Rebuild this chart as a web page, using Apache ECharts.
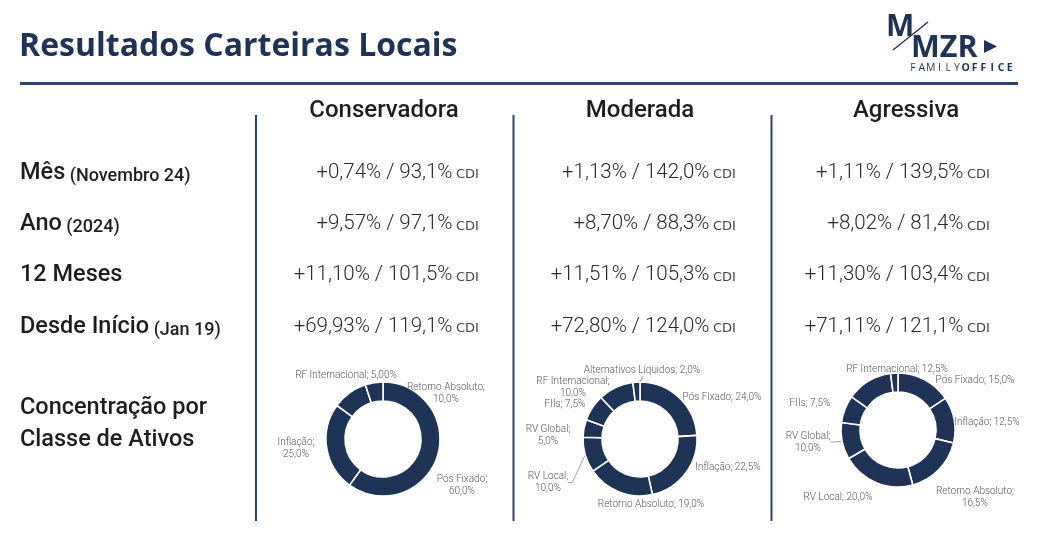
<!DOCTYPE html>
<html>
<head>
<meta charset="utf-8">
<script src="https://cdn.jsdelivr.net/npm/echarts@6/dist/echarts.min.js"></script>
<style>
html,body{margin:0;padding:0;background:#fff;}
#chart{width:1043px;height:533px;}
</style>
</head>
<body>
<div id="chart"></div>
<script>
// ---------- DATA ----------
const title = 'Resultados Carteiras Locais';
const portfolios = ['Conservadora', 'Moderada', 'Agressiva'];
const rowLabels = ['Mês', 'Ano', '12 Meses', 'Desde Início'];
const rowSubs = ['(Novembro 24)', '(2024)', '', '(Jan 19)'];
const concentrationLabel = ['Concentração por', 'Classe de Ativos'];

const retConservadora = [0.74, 9.57, 11.10, 69.93];
const cdiConservadora = [93.1, 97.1, 101.5, 119.1];
const retModerada = [1.13, 8.70, 11.51, 72.80];
const cdiModerada = [142.0, 88.3, 105.3, 124.0];
const retAgressiva = [1.11, 8.02, 11.30, 71.11];
const cdiAgressiva = [139.5, 81.4, 103.4, 121.1];

const consNames = ['Pós Fixado', 'Inflação', 'Retorno Absoluto', 'RF Internacional'];
const consValues = [60, 25, 10, 5];
const consDecimals = [1, 1, 1, 2];

const modNames = ['Pós Fixado', 'Inflação', 'Retorno Absoluto', 'RV Local', 'RV Global', 'FIIs', 'RF Internacional', 'Alternativos Líquidos'];
const modValues = [24, 22.5, 19, 10, 5, 7.5, 10, 2];

const agrNames = ['Pós Fixado', 'Inflação', 'Retorno Absoluto', 'RV Local', 'RV Global', 'FIIs', 'RF Internacional', 'Alternativos Líquidos'];
const agrValues = [15, 12.5, 16.5, 20, 10, 7.5, 12.5, 2];
const agrHidden = [false, false, false, false, false, false, false, true];

// ---------- LAYOUT / STYLE ----------
const NAVY = '#1f3357';
const LINE = '#2c4468';
const TXT = '#1e1e1e';
const VAL = '#2a2a2a';

const colCenters = [384, 640, 906];
const valRight = [456, 713, 967];
const sepX = [256, 513.5, 771.5];
const labelBase = [180, 231.5, 282.3, 334];

const pieCenters = [[383, 439], [640, 439], [898, 430]];
// label anchor [x, y, lineBreak]
const labelPos = [
  [[462, 485, 1], [296, 448, 1], [446, 393, 1], [346, 375, 0]],
  [[722, 397, 0], [728, 467, 0], [651, 504, 0], [548, 482.5, 1], [548, 435.5, 1], [565, 404, 0], [573, 387, 1], [642, 370, 0]],
  [[975, 380, 0], [987, 422, 0], [975, 497, 1], [838, 497, 0], [808, 442, 1], [810, 403, 0], [897, 369, 0], [0, 0, 0]]
];
// items with a leader line [series, dataIndex]
const leaderItems = [[1, 3], [1, 7], [2, 4]];

function fmt(v, d) { return v.toFixed(d).replace('.', ','); }

const rets = [retConservadora, retModerada, retAgressiva];
const cdis = [cdiConservadora, cdiModerada, cdiAgressiva];

const graphics = [];
function txt(x, y, text, opt) {
  opt = opt || {};
  graphics.push({
    type: 'text', x: x, y: y, silent: true,
    style: Object.assign({
      text: text,
      fill: opt.fill || TXT,
      fontFamily: opt.fontFamily || 'Roboto',
      fontSize: opt.fontSize || 20,
      fontWeight: opt.fontWeight || 'normal',
      align: opt.align || 'left', textAlign: opt.align || 'left',
      verticalAlign: opt.verticalAlign || 'middle', textVerticalAlign: opt.verticalAlign || 'middle'
    }, opt.extra || {})
  });
}

// Title
txt(19, 46.5, title, { fontFamily: 'Open Sans', fontWeight: 'bold', fontSize: 32, fill: NAVY });
graphics.push({ type: 'line', silent: true, shape: { x1: 20, y1: 83.5, x2: 1018, y2: 83.5 }, style: { stroke: LINE, lineWidth: 3 } });

// Logo
txt(886, 27, 'M', { fontFamily: 'Open Sans', fontWeight: 'bold', fontSize: 30, fill: NAVY });
txt(911, 48, 'MZR', { fontFamily: 'Open Sans', fontWeight: 'bold', fontSize: 30.5, fill: NAVY });
graphics.push({ type: 'line', silent: true, shape: { x1: 893, y1: 50, x2: 928, y2: 22 }, style: { stroke: NAVY, lineWidth: 1.5 } });
graphics.push({ type: 'polygon', silent: true, shape: { points: [[984, 40], [984, 53], [997, 46.5]] }, style: { fill: NAVY } });
const logoSub = 'FAMILYOFFICE';
for (let i = 0; i < logoSub.length; i++) {
  txt(913 + i * 8.8, 68.5, logoSub[i], { fontFamily: 'Open Sans', fontSize: 10.5, fontWeight: i < 6 ? 'normal' : 'bold', fill: NAVY, align: 'center' });
}

// Column headers
portfolios.forEach(function (p, i) {
  txt(colCenters[i], 111, p, { fontSize: 24, fontWeight: 500, fill: TXT, align: 'center' });
});

// Separators
sepX.forEach(function (x) {
  graphics.push({ type: 'line', silent: true, shape: { x1: x, y1: 115, x2: x, y2: 521 }, style: { stroke: LINE, lineWidth: 2 } });
});

// Row labels
rowLabels.forEach(function (l, r) {
  const text = '{a|' + l + '}' + (rowSubs[r] ? '{s| }{b|' + rowSubs[r] + '}' : '');
  graphics.push({
    type: 'text', x: 20, y: labelBase[r] + 5, silent: true,
    style: {
      text: text, align: 'left', textAlign: 'left', verticalAlign: 'bottom', textVerticalAlign: 'bottom',
      fill: TXT, fontFamily: 'Roboto', fontSize: 18, fontWeight: 500,
      rich: {
        a: { fontFamily: 'Roboto', fontSize: 23.5, fontWeight: 500, fill: TXT, lineHeight: 23.5, verticalAlign: 'bottom' },
        s: { fontFamily: 'Roboto', fontSize: 18, fontWeight: 500, fill: TXT, lineHeight: 18, verticalAlign: 'bottom' },
        b: { fontFamily: 'Roboto', fontSize: 18, fontWeight: 500, fill: TXT, lineHeight: 18, verticalAlign: 'bottom' }
      }
    }
  });
});

// Values
portfolios.forEach(function (p, c) {
  for (let r = 0; r < rowLabels.length; r++) {
    const base = labelBase[r] - 0.5;
    const s = '+' + fmt(rets[c][r], 2) + '% / ' + fmt(cdis[c][r], 1) + '%';
    txt(valRight[c] - 3.5, base - 6.8, s, { fontSize: 20.5, fontWeight: 300, fill: VAL, align: 'right' });
    txt(valRight[c], base - 4.6, 'CDI', { fontFamily: 'DejaVu Sans', fontSize: 13, fontWeight: 'normal', fill: '#444', align: 'left' });
  }
});

// Concentration label
txt(20, 408.5, concentrationLabel[0], { fontSize: 23.5, fontWeight: 500 });
txt(20, 440.5, concentrationLabel[1], { fontSize: 23.5, fontWeight: 500 });

function isLeader(s, i) {
  return leaderItems.some(function (l) { return l[0] === s && l[1] === i; });
}

function pieSeries(idx, names, values, decimals, hidden) {
  return {
    type: 'pie',
    center: pieCenters[idx],
    radius: [38, 57],
    startAngle: 90,
    clockwise: true,
    silent: true,
    animation: false,
    avoidLabelOverlap: false,
    itemStyle: { color: NAVY, borderColor: '#fff', borderWidth: 1.6 },
    labelLine: { show: false },
    label: {
      show: true,
      fontFamily: 'Roboto', fontSize: 10, fontWeight: 300, color: '#555', lineHeight: 12,
      align: 'center',
      formatter: function (p) {
        const d = decimals ? decimals[p.dataIndex] : 1;
        const br = labelPos[idx][p.dataIndex][2];
        return p.name + ';' + (br ? '\n' : ' ') + fmt(p.value, d) + '%';
      }
    },
    labelLayout: function (p) {
      const lp = labelPos[idx][p.dataIndex];
      return { x: lp[0], y: lp[1], align: 'center', verticalAlign: 'middle' };
    },
    data: names.map(function (n, i) {
      const item = { name: n, value: values[i] };
      if (hidden && hidden[i]) item.label = { show: false };
      if (isLeader(idx, i)) item.labelLine = { show: true, length: 4, length2: 4, lineStyle: { color: '#8a8a8a', width: 0.8 } };
      return item;
    })
  };
}

const chart = echarts.init(document.getElementById('chart'), null, { renderer: 'canvas' });
chart.setOption({
  animation: false,
  backgroundColor: '#fff',
  graphic: { elements: graphics },
  series: [
    pieSeries(0, consNames, consValues, consDecimals, null),
    pieSeries(1, modNames, modValues, null, null),
    pieSeries(2, agrNames, agrValues, null, agrHidden)
  ]
});
</script>
</body>
</html>
